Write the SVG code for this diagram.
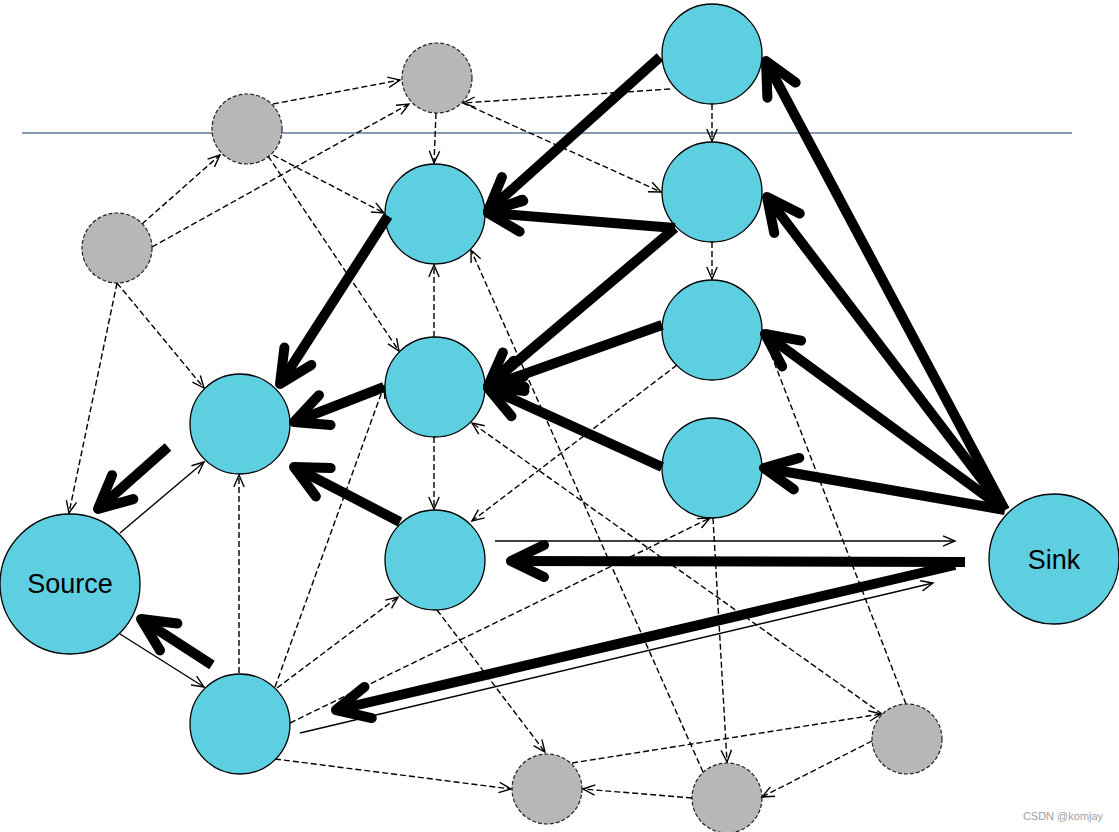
<svg xmlns="http://www.w3.org/2000/svg" width="1119" height="832" viewBox="0 0 1119 832">
<style>
.blue{fill:#5ecfe1;stroke:#000;stroke-width:1.3}
.gray{fill:#b7b7b7;stroke:#222;stroke-width:1.2;stroke-dasharray:4,2}
.dash{fill:none;stroke:#000;stroke-width:1.4;stroke-dasharray:6,3;marker-end:url(#thin)}
.dashn{fill:none;stroke:#000;stroke-width:1.4;stroke-dasharray:6,3}
.solid{fill:none;stroke:#000;stroke-width:1.4;marker-end:url(#thin)}
.thick{fill:none;stroke:#000;stroke-width:10;stroke-linecap:butt;marker-end:url(#big)}
.lbl{font-family:"Liberation Sans",Arial,sans-serif;font-size:27px;fill:#000;text-anchor:middle}
</style>
<defs>
<marker id="thin" markerUnits="userSpaceOnUse" orient="auto" refX="0" refY="0" markerWidth="20" markerHeight="20" style="overflow:visible">
<path d="M-12,-5.2 L0,0 L-12,5.2" fill="none" stroke="#000" stroke-width="1.4"/>
</marker>
<marker id="big" markerUnits="userSpaceOnUse" orient="auto" refX="0" refY="0" markerWidth="60" markerHeight="60" style="overflow:visible">
<path d="M-33,-16 L0,0 L-33,16" fill="none" stroke="#000" stroke-width="10" stroke-linecap="round" stroke-linejoin="round"/>
</marker>
</defs>
<rect width="1119" height="832" fill="#fff"/>
<line x1="22" y1="133" x2="1072" y2="133" stroke="#5b7a99" stroke-width="1.6"/>
<g id="nodes">
<g id="G1"><circle class="gray" cx="247" cy="129" r="35"/></g>
<g id="G2"><circle class="gray" cx="437" cy="78" r="35"/></g>
<g id="G3"><circle class="gray" cx="117" cy="248" r="35"/></g>
<g id="G4"><circle class="gray" cx="547" cy="789" r="35"/></g>
<g id="G5"><circle class="gray" cx="727" cy="798" r="35"/></g>
<g id="G6"><circle class="gray" cx="907" cy="739" r="35"/></g>
<g id="BT"><circle class="blue" cx="712" cy="54" r="50"/></g>
<g id="B2"><circle class="blue" cx="712" cy="192" r="50"/></g>
<g id="B3"><circle class="blue" cx="712" cy="330" r="50"/></g>
<g id="B4"><circle class="blue" cx="712" cy="468" r="50"/></g>
<g id="M1"><circle class="blue" cx="435" cy="214" r="50"/></g>
<g id="M2"><circle class="blue" cx="435" cy="387" r="50"/></g>
<g id="M3"><circle class="blue" cx="435" cy="560" r="50"/></g>
<g id="L1"><circle class="blue" cx="240" cy="424" r="50"/></g>
<g id="L2"><circle class="blue" cx="240" cy="724" r="50"/></g>
<g id="Source"><circle class="blue" cx="70" cy="584" r="70"/><text class="lbl" x="70" y="593">Source</text></g>
<g id="Sink"><circle class="blue" cx="1054" cy="559" r="65"/><text class="lbl" x="1054" y="569">Sink</text></g>
</g>
<g id="connectors">
<path class="dash" d="M142,224 L220,155"/>
<path class="dash" d="M152,247 L409,104"/>
<path class="dash" d="M273,104 L400,80"/>
<path class="dash" d="M670,89 L463,103"/>
<path class="dash" d="M436,113 L434,163"/>
<path class="dash" d="M463,103 L661,192"/>
<path class="dash" d="M712,104 L712,141"/>
<path class="dash" d="M712,242 L712,279"/>
<path class="dash" d="M273,155 L384,213"/>
<path class="dash" d="M268,156 L399,351"/>
<path class="dash" d="M117,283 L204,388"/>
<path class="dash" d="M117,283 L69,513"/>
<path class="dash" d="M434,337 L434,265"/>
<path class="dash" d="M434,437 L434,509"/>
<path class="dash" d="M239,673 L239,475"/>
<path class="dash" d="M703,772 L471,250"/>
<path class="dash" d="M882,714 L472,423"/>
<path class="dash" d="M677,365 L472,521"/>
<path class="dash" d="M290,723 L710,518"/>
<path class="dash" d="M275,687 L384,386"/>
<path class="dash" d="M277,688 L398,597"/>
<path class="dash" d="M275,759 L511,789"/>
<path class="dash" d="M437,610 L545,752"/>
<path class="dash" d="M572,763 L881,714"/>
<path class="dash" d="M872,741 L762,797"/>
<path class="dash" d="M692,798 L583,789"/>
<path class="dash" d="M713,518 L727,762"/>
<path class="dashn" d="M906,704 L764,336"/>
<path class="solid" d="M120,533 L204,462"/>
<path class="solid" d="M120,634 L204,687"/>
<path class="solid" d="M495,541 L955,541"/>
<path class="solid" d="M300,733 L933,583"/>
<path class="thick" d="M1005,510 L766,61"/>
<path class="thick" d="M1005,510 L767,197"/>
<path class="thick" d="M1005,510 L765,334"/>
<path class="thick" d="M1005,510 L764,468"/>
<path class="thick" d="M965,562 L511,561"/>
<path class="thick" d="M955,565 L336,710"/>
<path class="thick" d="M660,57 L488,211"/>
<path class="thick" d="M675,228 L488,213"/>
<path class="thick" d="M675,228 L488,386"/>
<path class="thick" d="M662,325 L488,387"/>
<path class="thick" d="M662,467 L488,388"/>
<path class="thick" d="M388,216 L280,384"/>
<path class="thick" d="M384,387 L294,422"/>
<path class="thick" d="M400,522 L294,467"/>
<path class="thick" d="M168,447 L98,509"/>
<path class="thick" d="M212,665 L141,619"/>
</g>
<text x="1063" y="820" font-family="Liberation Sans,Arial,sans-serif" font-size="11" fill="#a0a0a0" text-anchor="middle">CSDN @komjay</text>
</svg>
